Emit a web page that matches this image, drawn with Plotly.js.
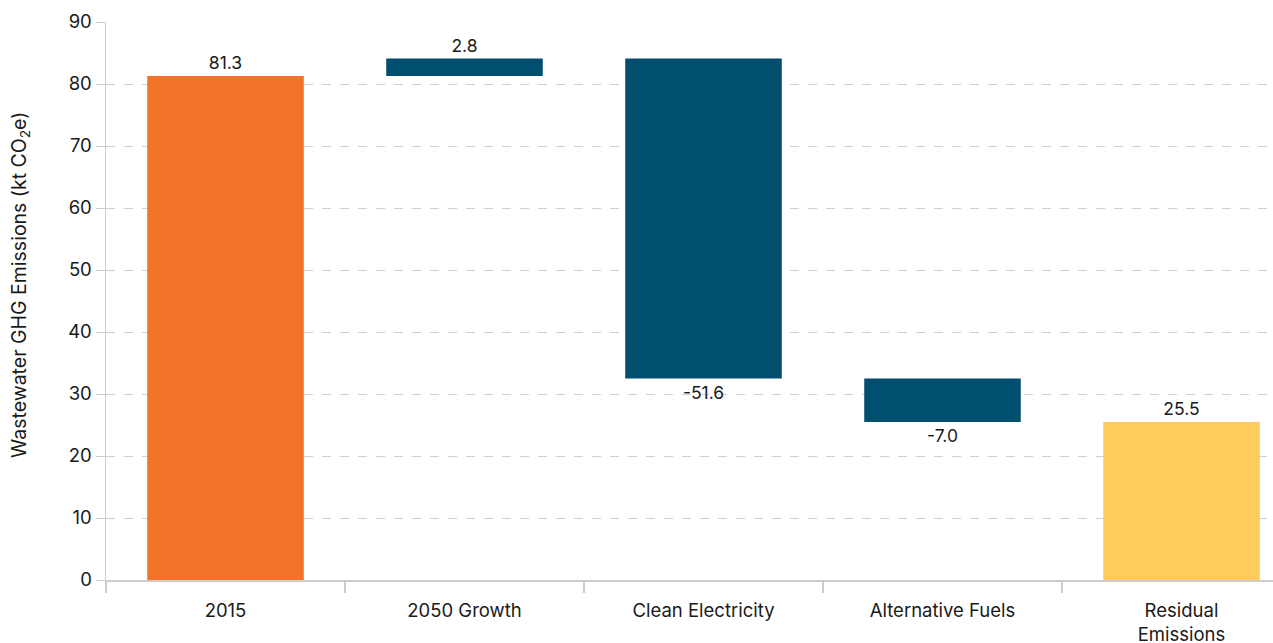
<!DOCTYPE html>
<html>
<head>
<meta charset="utf-8">
<script src="https://cdn.plot.ly/plotly-3.0.1.min.js"></script>
<style>
html,body{margin:0;padding:0;overflow:hidden;background:#fff;}
#chart{width:1310px;height:643px;}
</style>
</head>
<body>
<div id="chart"></div>
<script>
const categories = ["2015", "2050 Growth", "Clean Electricity", "Alternative Fuels", "Residual<br>Emissions"];
const changes = [81.3, 2.8, -51.6, -7.0, 25.5];
const measures = ["absolute", "relative", "relative", "relative", "total"];
const labels = ["81.3", "2.8", "-51.6", "-7.0", "25.5"];
const barColors = ["#F37328", "#004F6E", "#004F6E", "#004F6E", "#FECB5D"];
const yTickValues = [0, 10, 20, 30, 40, 50, 60, 70, 80, 90];
const yTitle = "Wastewater GHG Emissions (kt CO<sub>2</sub>e)";

// compute bases from the change values
const bases = [];
const heights = [];
let running = 0;
for (let i = 0; i < changes.length; i++) {
  if (measures[i] === "absolute" || measures[i] === "total") {
    bases.push(0);
    heights.push(changes[i]);
    running = changes[i];
  } else {
    bases.push(running);
    heights.push(changes[i]);
    running += changes[i];
  }
}

const FONT = "Inter, 'Open Sans', sans-serif";

const trace = {
  type: "bar",
  x: categories,
  y: heights,
  base: bases,
  marker: {color: barColors},
  width: 0.655,
  text: labels,
  textposition: "outside",
  textfont: {family: FONT, size: 17.5, color: "#1a1a1a"},
  cliponaxis: false,
  hoverinfo: "none"
};

const layout = {
  width: 1310,
  height: 643,
  margin: {l: 106, r: 9, t: 22, b: 63},
  paper_bgcolor: "#fff",
  plot_bgcolor: "#fff",
  showlegend: false,
  font: {family: FONT, size: 18, color: "#1a1a1a"},
  xaxis: {
    type: "category",
    showline: true,
    linecolor: "#cccccc",
    linewidth: 1.5,
    ticks: "outside",
    tickson: "boundaries",
    ticklen: 11,
    tickcolor: "#cccccc",
    tickwidth: 1.5,
    showgrid: false,
    ticklabelstandoff: 13,
    tickfont: {family: FONT, size: 18.5, color: "#1a1a1a"}
  },
  yaxis: {
    range: [0, 90],
    tickvals: yTickValues,
    ticktext: yTickValues.map(String),
    showline: true,
    linecolor: "#cccccc",
    linewidth: 1.5,
    ticks: "outside",
    ticklen: 9,
    tickcolor: "#cccccc",
    tickwidth: 1,
    showgrid: true,
    gridcolor: "#d0d0d0",
    griddash: "dash",
    gridwidth: 1,
    zeroline: false,
    tickfont: {family: FONT, size: 18.5, color: "#1a1a1a"}
  },
  annotations: [{
    text: yTitle,
    textangle: -90,
    xref: "paper", yref: "paper",
    x: 0, y: 0.5287,
    xanchor: "center", yanchor: "middle",
    xshift: -86,
    showarrow: false,
    font: {family: FONT, size: 19.5, color: "#1a1a1a"}
  }]
};

Plotly.newPlot("chart", [trace], layout, {displayModeBar: false, staticPlot: true});
</script>
</body>
</html>
